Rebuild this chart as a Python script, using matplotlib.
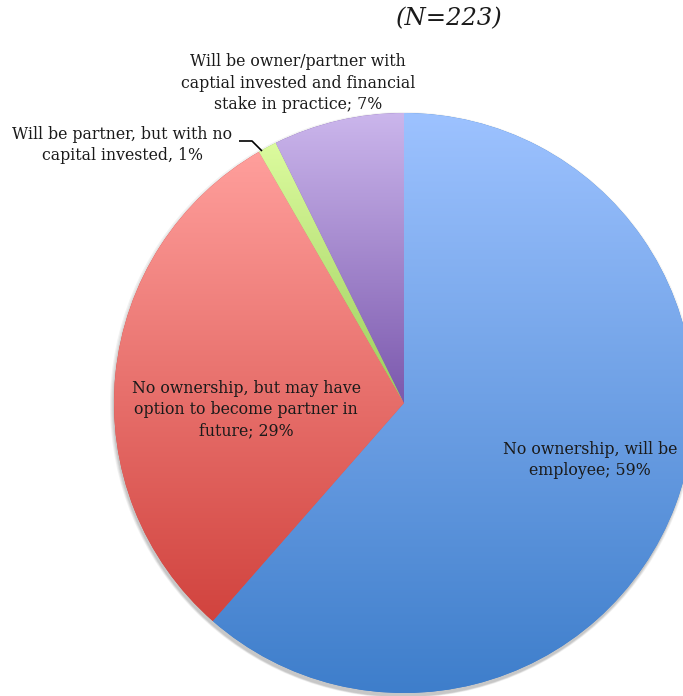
import numpy as np
import matplotlib
matplotlib.use("Agg")
import matplotlib.pyplot as plt
from matplotlib.colors import LinearSegmentedColormap
from matplotlib.patches import Circle

# Ownership expectations of respondents (percent, as labelled)
categories = [
    "No ownership, will be\nemployee; 59%",
    "No ownership, but may have\noption to become partner in\nfuture; 29%",
    "Will be partner, but with no\ncapital invested, 1%",
    "Will be owner/partner with\ncaptial invested and financial\nstake in practice; 7%",
]
values = [59, 29, 1, 7]
title = "(N=223)"

# light (top) -> dark (bottom) fill for each slice
gradients = [
    ("#9dc2ff", "#3e7ecb"),
    ("#ff9f9c", "#d1433e"),
    ("#dcfb9e", "#9ccd5c"),
    ("#cbb6ec", "#7b58ad"),
]

W, H = 683, 696
fig = plt.figure(figsize=(W / 100, H / 100), dpi=100)
ax = fig.add_axes([0, 0, 1, 1])
ax.set_xlim(0, W)
ax.set_ylim(0, H)
ax.set_aspect("equal")
ax.axis("off")

cx, cy, R = 404, H - 403, 290

# soft drop shadow under the pie
for i, a in enumerate([0.05, 0.05, 0.06, 0.07]):
    ax.add_patch(Circle((cx - 1, cy - 2 - i * 0.6), R + 3 - i, color="#000000",
                        alpha=a, lw=0, zorder=0))

wedges, _ = ax.pie(values, center=(cx, cy), radius=R, startangle=90,
                   counterclock=False, frame=True,
                   wedgeprops=dict(linewidth=0.6, edgecolor="none"))
ax.set_xlim(0, W)
ax.set_ylim(0, H)
ax.axis("off")

grad = np.linspace(0, 1, 256).reshape(-1, 1)
for w, (c_top, c_bot) in zip(wedges, gradients):
    w.set_facecolor(c_bot)
    w.set_zorder(1)
    bb = w.get_path().get_extents()
    cmap = LinearSegmentedColormap.from_list("g", [c_top, c_bot])
    im = ax.imshow(grad, cmap=cmap, aspect="auto", origin="upper",
                   extent=(bb.x0, bb.x1, bb.y0, bb.y1), zorder=2,
                   interpolation="bilinear")
    im.set_clip_path(w)

ax.set_xlim(0, W)
ax.set_ylim(0, H)

font = dict(family="DejaVu Serif", fontsize=11.3, color="#1a1a1a",
            ha="center", va="center", linespacing=1.32, zorder=5)

ax.text(590, H - 460, categories[0], **font)
ax.text(246, H - 410, categories[1], **font)
ax.text(122, H - 145, categories[2], **font)
ax.text(298, H - 83, categories[3], **font)

# leader line for the thin slice
ax.plot([239, 252, 262], [H - 141, H - 141, H - 151], color="#000000",
        lw=1.2, zorder=5, solid_capstyle="butt")

ax.text(449, H - 19, title, family="DejaVu Serif", style="italic",
        fontsize=17.5, color="#1a1a1a", ha="center", va="center", zorder=5)

fig.savefig("out.png", dpi=100)
